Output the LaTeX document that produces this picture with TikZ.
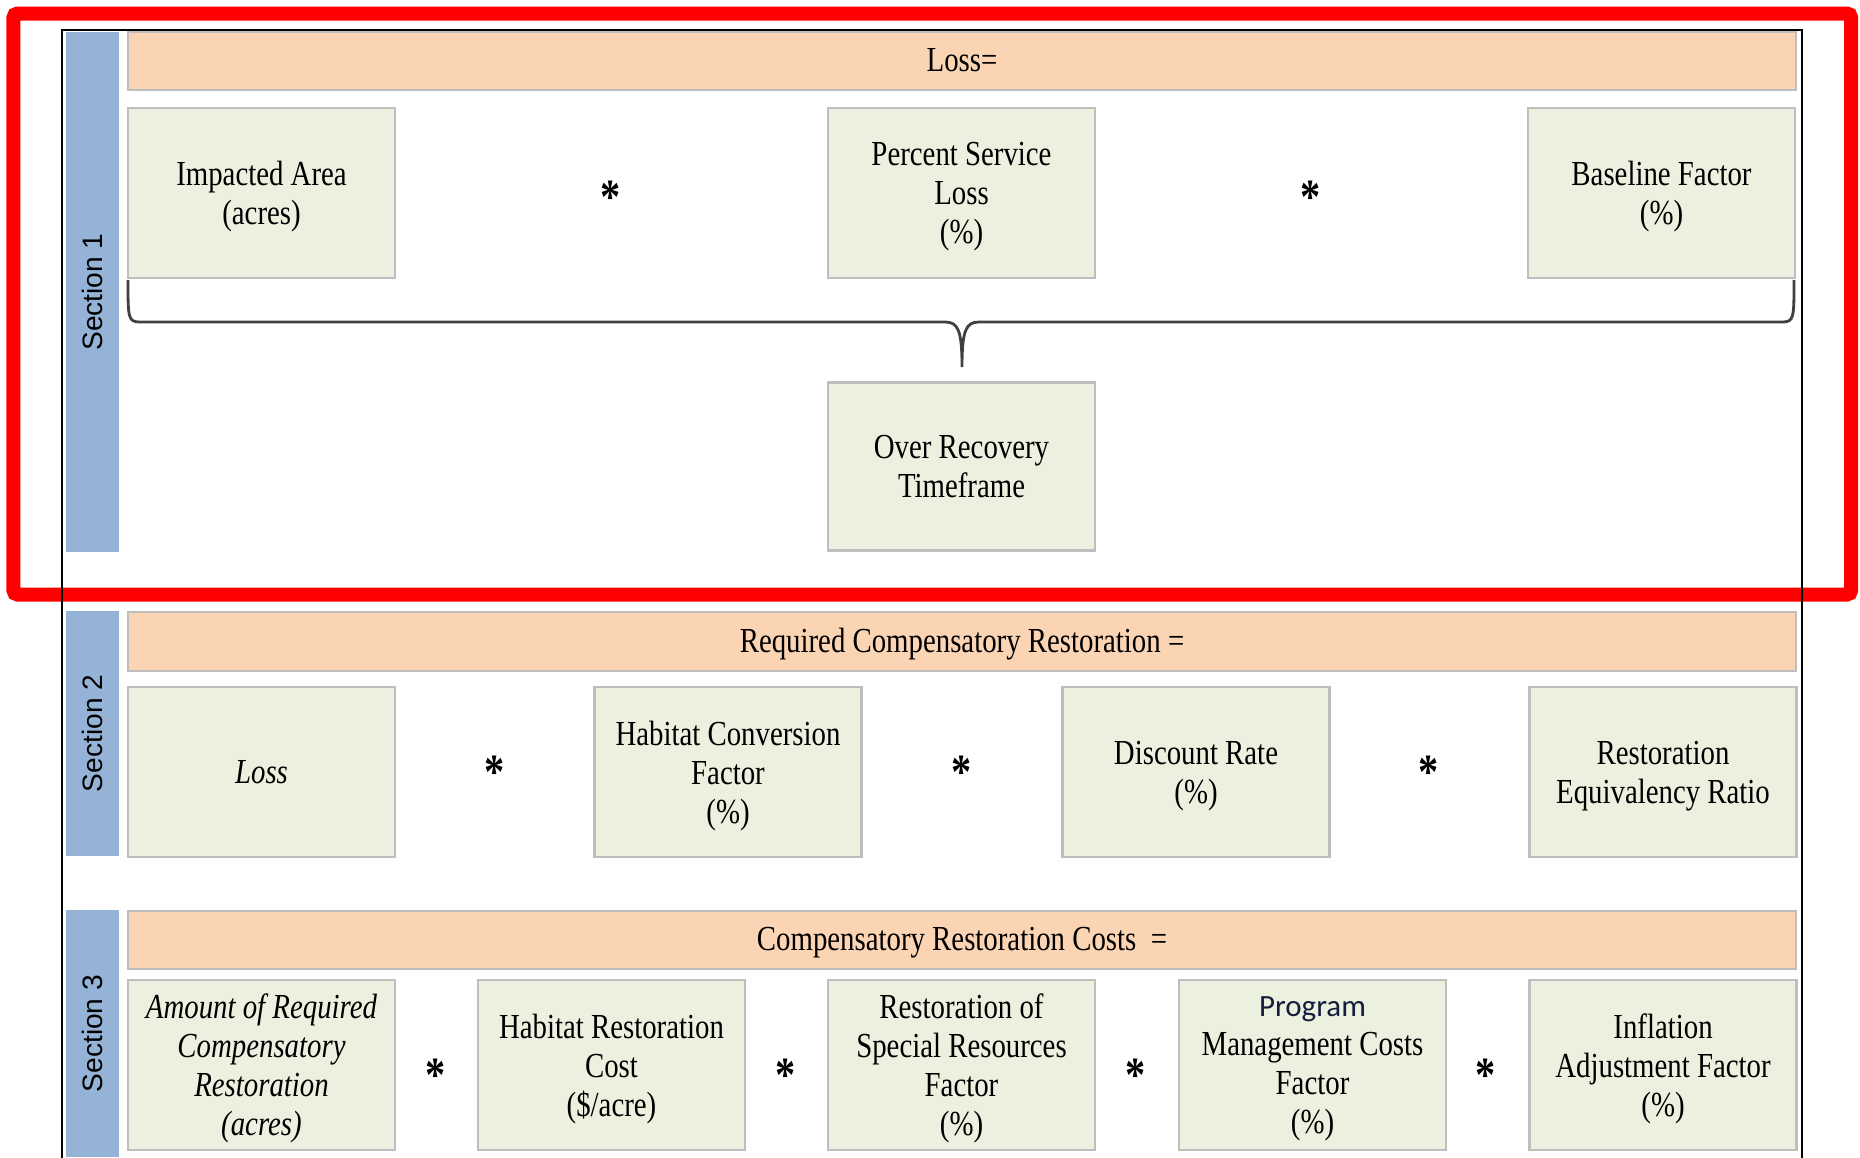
\documentclass[tikz,border=0pt]{standalone}
\usepackage{fontspec}
\setmainfont{Liberation Serif}[FakeStretch=0.82]
\setsansfont{Liberation Sans}
\newfontfamily\progfont{Carlito}
\definecolor{secblue}{RGB}{149,179,215}
\definecolor{bandpeach}{RGB}{251,212,180}
\definecolor{termgreen}{RGB}{235,241,222}
\definecolor{boxgray}{RGB}{190,190,190}
\definecolor{progblue}{RGB}{20,30,60}
\tikzset{
  secbar/.style={fill=secblue, rotate=90, minimum height=0.53cm, inner sep=0pt,
    font=\sffamily\fontsize{8}{9}\selectfont},
  eqband/.style={fill=bandpeach, draw=boxgray, line width=0.7pt, minimum width=16.68cm,
    minimum height=0.58cm, inner sep=0pt, font=\fontsize{10}{11.1}\selectfont,
    text height=7.5pt, text depth=1.5pt},
  termbox/.style={fill=termgreen, draw=boxgray, line width=0.7pt, minimum width=2.67cm,
    minimum height=1.70cm, inner sep=0pt, align=center, font=\fontsize{10}{11.1}\selectfont,
    text depth=0pt},
  times/.style={anchor=base, inner sep=0pt, font=\bfseries\fontsize{14}{15}\selectfont},
  brace/.style={line width=0.8pt, draw=black!75}
}
\begin{document}
\begin{tikzpicture}
    \useasboundingbox (0,0) rectangle (18.60,-11.57);
    % outer frames
    \draw[red, line width=0.14cm, rounded corners=0.04cm] (0.135,-0.135) rectangle (18.51,-5.945);
    \draw[line width=0.5pt] (0.62,-11.70) |- (18.02,-0.30) -- (18.02,-11.70);
    % section 1
    \node[secbar, minimum width=5.20cm] (sec1) at (0.925,-2.92) {Section 1};
    \node[eqband] (loss) at (9.62,-0.61) {Loss=};
    \node[termbox] (area) at (2.615,-1.93) {Impacted Area\\(acres)};
    \node[termbox] (pctloss) at (9.615,-1.93) {Percent Service\\Loss\\(\%)};
    \node[termbox] (baseline) at (16.615,-1.93) {Baseline Factor\\(\%)};
    \node[times] (t1) at (6.11,-2.13) {*};
    \node[times] (t2) at (13.11,-2.13) {*};
    \node[termbox, minimum height=1.68cm] (timeframe) at (9.615,-4.665) {Over Recovery\\Timeframe};
    \coordinate (brL) at (1.28,-2.80);
    \coordinate (brR) at (17.94,-2.80);
    \coordinate (brT) at (9.62,-3.67);
    \draw[brace] (brL) .. controls (1.28,-3.18) and (1.28,-3.22) .. (1.40,-3.22) -- (9.45,-3.22)
        .. controls (9.58,-3.22) and (9.62,-3.30) .. (brT)
        .. controls (9.62,-3.30) and (9.66,-3.22) .. (9.79,-3.22) -- (17.82,-3.22)
        .. controls (17.94,-3.22) and (17.94,-3.18) .. (brR);
    % section 2
    \node[secbar, minimum width=2.45cm] (sec2) at (0.925,-7.335) {Section 2};
    \node[eqband, minimum height=0.59cm] (rcr) at (9.62,-6.415) {Required Compensatory Restoration =};
    \node[termbox] (lossterm) at (2.615,-7.72) {\itshape Loss};
    \node[termbox] (hcf) at (7.28,-7.72) {Habitat Conversion\\Factor\\(\%)};
    \node[termbox] (discount) at (11.96,-7.72) {Discount Rate\\(\%)};
    \node[termbox] (rer) at (16.63,-7.72) {Restoration\\Equivalency Ratio};
    \node[times] (t3) at (4.95,-7.88) {*};
    \node[times] (t4) at (9.62,-7.88) {*};
    \node[times] (t5) at (14.29,-7.88) {*};
    % section 3
    \node[secbar, minimum width=2.47cm] (sec3) at (0.925,-10.335) {Section 3};
    \node[eqband] (crc) at (9.62,-9.40) {Compensatory Restoration Costs\ \ =};
    \node[termbox] (amount) at (2.615,-10.65) {\itshape Amount of Required\\\itshape Compensatory\\\itshape Restoration\\\itshape (acres)};
    \node[termbox] (hrcost) at (6.115,-10.65) {Habitat Restoration\\Cost\\(\$/acre)};
    \node[termbox] (special) at (9.615,-10.65) {Restoration of\\Special Resources\\Factor\\(\%)};
    \node[termbox] (progmgmt) at (13.125,-10.65) {{\progfont\fontsize{8.8}{11.1}\selectfont\color{progblue}Program}\\Management Costs\\Factor\\(\%)};
    \node[termbox] (inflation) at (16.63,-10.65) {Inflation\\Adjustment Factor\\(\%)};
    \node[times] (t6) at (4.36,-10.91) {*};
    \node[times] (t7) at (7.86,-10.91) {*};
    \node[times] (t8) at (11.36,-10.91) {*};
    \node[times] (t9) at (14.86,-10.91) {*};
\end{tikzpicture}
\end{document}
